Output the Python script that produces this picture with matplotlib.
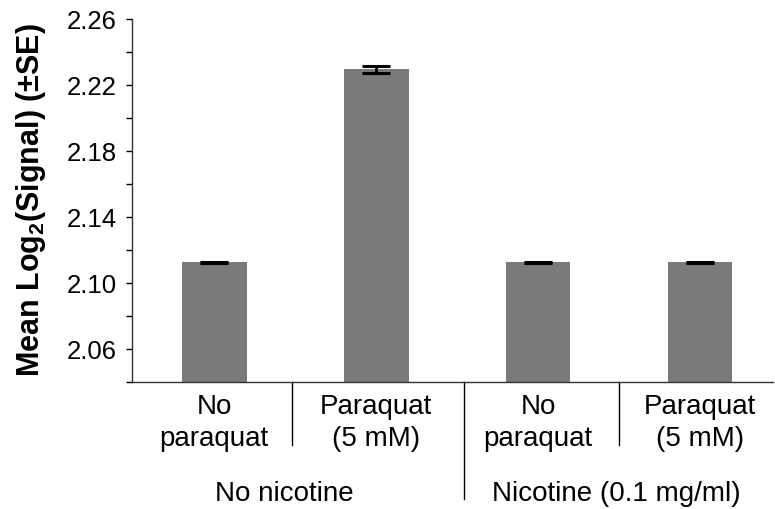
import matplotlib.pyplot as plt
from matplotlib.ticker import MultipleLocator

plt.rcParams['font.family'] = ['Liberation Sans', 'DejaVu Sans']
plt.rcParams['mathtext.fontset'] = 'custom'
plt.rcParams['mathtext.bf'] = 'Liberation Sans:bold'
plt.rcParams['mathtext.rm'] = 'Liberation Sans'

# bar values
conditions = ['No\nparaquat', 'Paraquat\n(5 mM)', 'No\nparaquat', 'Paraquat\n(5 mM)']
groups = ['No nicotine', 'Nicotine (0.1 mg/ml)']
means = [2.1125, 2.2294, 2.1125, 2.1125]
se = [0.0002, 0.0022, 0.0002, 0.0002]
yticks = [2.06, 2.10, 2.14, 2.18, 2.22, 2.26]

fig = plt.figure(figsize=(7.75, 5.1), dpi=100)
ax = fig.add_axes([0.1703, 0.249, 0.827, 0.712])

x = list(range(len(means)))
ax.bar(x, means, width=0.4, color='#7a7a7a', zorder=2)
ax.errorbar(x, means, yerr=se, fmt='none', ecolor='black', elinewidth=2,
            capsize=10, capthick=2.2, zorder=3)

ax.set_ylim(2.04, 2.26)
ax.set_xlim(-0.508, 3.45)
ax.yaxis.set_minor_locator(MultipleLocator(0.02))
ax.set_yticks(yticks)
ax.set_yticklabels([f'{v:.2f}' for v in yticks])
ax.tick_params(axis='y', which='both', direction='out', length=4, width=1,
               labelsize=18.5, pad=7)
ax.set_xticks([])

for s in ['top', 'right']:
    ax.spines[s].set_visible(False)
for s in ['left', 'bottom']:
    ax.spines[s].set_linewidth(1)
    ax.spines[s].set_color('#333333')

fig.text(31 / 775, 0.608, 'Mean Log$_\\mathbf{2}$(Signal) (±SE)', fontsize=22,
         fontweight='bold', rotation=90, ha='center', va='center')

trans = ax.get_xaxis_transform()
# condition labels
for xi, lab in zip(x, conditions):
    ax.text(xi, -0.03, lab, transform=trans, ha='center', va='top',
            fontsize=20, linespacing=1.3)
# group labels
ax.text(0.43, -0.27, groups[0], transform=trans, ha='center', va='top',
        fontsize=20)
ax.text(2.48, -0.27, groups[1], transform=trans, ha='center', va='top',
        fontsize=20)

# separator lines below the axis
for xs, yb in [(0.48, -0.174), (1.545, -0.322), (2.5, -0.174)]:
    ax.plot([xs, xs], [0, yb], transform=trans, color='black', lw=1,
            clip_on=False)

fig.savefig('out.png', dpi=100)
